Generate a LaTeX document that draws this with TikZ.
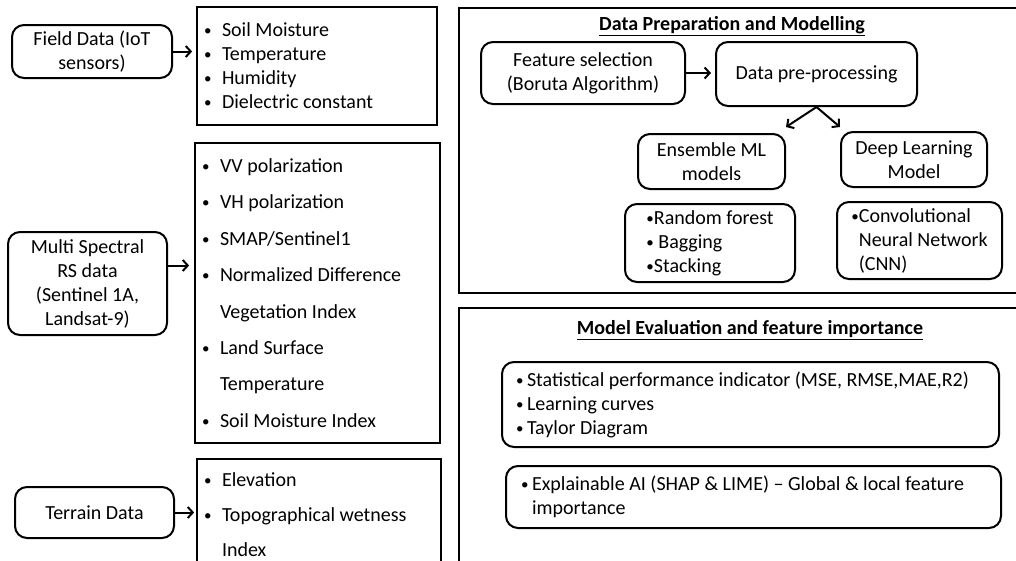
\documentclass[tikz,border=0pt]{standalone}
\usepackage{fontspec}
\setmainfont{Carlito}
\usetikzlibrary{arrows.meta}

\newcommand{\dotb}{\raisebox{1pt}{\fontsize{15}{15}\selectfont\textbullet}}
\newcommand{\bul}{\makebox[18pt][l]{\dotb}}
\newcommand{\ind}{\hspace*{18pt}}
\newcommand{\sbul}{\makebox[11pt][l]{\dotb}}
\newcommand{\sind}{\hspace*{11pt}}

\begin{document}
\begin{tikzpicture}[x=1pt,y=-1pt,
    every node/.style={font=\fontsize{20}{24}\selectfont},
    srcbox/.style={draw,line width=2pt,rounded corners=12pt,align=center},
    listbox/.style={draw,line width=1.8pt,align=flush left,inner xsep=7pt},
    frame/.style={draw,line width=1.8pt},
    arr/.style={-{Straight Barb[length=5pt,width=11pt]},line width=2pt}]

    \useasboundingbox (0,0) rectangle (1016,560);
    \clip (0,0) rectangle (1016,560);

    % Input data sources
    \node[srcbox,minimum width=160pt,minimum height=53pt] (field) at (92,51.5)
      {Field Data (IoT\\sensors)};
    \node[srcbox,minimum width=159pt,minimum height=103pt] (multi) at (87.5,283.5)
      {Multi Spectral\\RS data\\(Sentinel 1A,\\Landsat-9)};
    \node[srcbox,minimum width=159pt,minimum height=51pt] (terrain) at (94.5,512.5)
      {Terrain Data};

    % Variable lists
    \node[listbox,text width=226pt,minimum height=118pt] (soil) at (317,66)
      {\bul Soil Moisture\\\bul Temperature\\\bul Humidity\\\bul Dielectric constant};
    \node[listbox,text width=231pt,minimum height=300pt] (vv) at (317.5,293)
      {\bul VV polarization\\[12.4pt]\bul VH polarization\\[12.4pt]\bul SMAP/Sentinel1\\[12.4pt]%
       \bul Normalized Difference\\[12.4pt]\ind Vegetation Index\\[12.4pt]\bul Land Surface\\[12.4pt]%
       \ind Temperature\\[12.4pt]\bul Soil Moisture Index};
    \node[listbox,text width=230pt,minimum height=111pt] (elev) at (319,514.5)
      {\bul Elevation\\[11pt]\bul Topographical wetness\\[11pt]\ind Index};

    % Source to list arrows
    \draw[arr,shorten >=4pt] (field.east) -- (field.east -| soil.west);
    \draw[arr,shorten >=5pt] ([yshift=18pt]multi.east) -- ([yshift=18pt]multi.east -| vv.west);
    \draw[arr,shorten >=2pt] (terrain.east) -- (terrain.east -| elev.west);

    % Data preparation and modelling
    \node[frame,minimum width=571pt,minimum height=285pt] (prepframe) at (744.5,150.5) {};
    \node (preptitle) at (732,26) {\underline{\textbf{Data Preparation and Modelling}}};
    \node[srcbox,minimum width=204pt,minimum height=62pt] (feat) at (583,73)
      {Feature selection\\(Boruta Algorithm)};
    \node[srcbox,minimum width=201pt,minimum height=64pt] (prep) at (816.5,74)
      {Data pre-processing};
    \node[srcbox,minimum width=147pt,minimum height=55pt] (ens) at (711.5,161.5)
      {Ensemble ML\\models};
    \node[srcbox,minimum width=146pt,minimum height=55pt] (deep) at (914,159.5)
      {Deep Learning\\Model};
    \node[srcbox,align=left,minimum width=170pt,minimum height=78pt] (forest) at (710,243)
      {\dotb Random forest\\\dotb\ Bagging\\\dotb Stacking};
    \node[srcbox,align=left,minimum width=165pt,minimum height=77pt] (cnn) at (919.5,240.5)
      {\dotb Convolutional\\\phantom{\dotb}Neural Network\\\phantom{\dotb}(CNN)};

    \draw[arr,shorten >=4pt] (feat.east) -- (feat.east -| prep.west);
    \draw[arr] (prep.south) -- ([yshift=6pt]ens.north east);
    \draw[arr] (prep.south) -- ([yshift=4pt]deep.north west);

    % Model evaluation and feature importance
    \node[frame,minimum width=571pt,minimum height=292pt] (evalframe) at (744.5,454) {};
    \node (evaltitle) at (750,330) {\underline{\textbf{Model Evaluation and feature importance}}};
    \node[srcbox,align=flush left,inner xsep=14pt,text width=469pt,minimum height=85pt] (stats) at (750.5,404.5)
      {\sbul Statistical performance indicator (MSE, RMSE,MAE,R2)\\\sbul Learning curves\\\sbul Taylor Diagram};
    \node[srcbox,align=flush left,inner xsep=15pt,text width=465pt,minimum height=62pt] (xai) at (753.5,497)
      {\sbul Explainable AI (SHAP \& LIME) – Global \& local feature\\\sind importance};

  \end{tikzpicture}
\end{document}
